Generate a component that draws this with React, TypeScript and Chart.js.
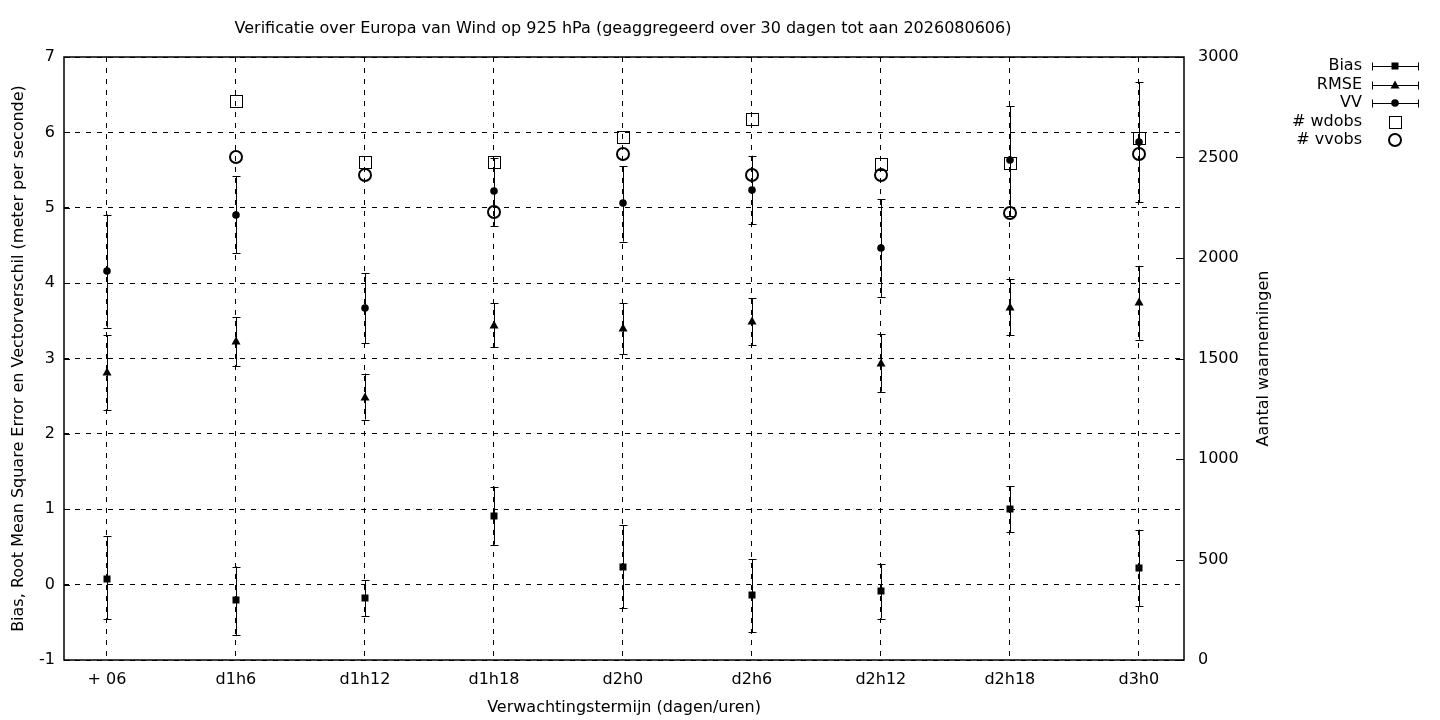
import { useEffect, useRef } from "react"
import { Chart, registerables } from "chart.js"

Chart.register(...registerables)

const FONT = "'DejaVu Sans', sans-serif"
const FS = 16

// forecast lead times
const categories = ["+ 06", "d1h6", "d1h12", "d1h18", "d2h0", "d2h6", "d2h12", "d2h18", "d3h0"]

// bias (m/s) with error bar ends
const bias = [0.08, -0.21, -0.18, 0.91, 0.24, -0.14, -0.09, 1.0, 0.22]
const biasHigh = [0.64, 0.24, 0.06, 1.3, 0.79, 0.34, 0.27, 1.31, 0.73]
const biasLow = [-0.46, -0.67, -0.42, 0.53, -0.31, -0.63, -0.45, 0.7, -0.29]

// root mean square error
const rmse = [2.82, 3.23, 2.49, 3.44, 3.4, 3.5, 2.94, 3.68, 3.75]
const rmseHigh = [3.31, 3.55, 2.8, 3.73, 3.73, 3.8, 3.32, 4.05, 4.23]
const rmseLow = [2.32, 2.9, 2.19, 3.15, 3.06, 3.18, 2.56, 3.31, 3.25]

// vector difference
const vv = [4.16, 4.91, 3.67, 5.22, 5.06, 5.23, 4.46, 5.63, 5.87]
const vvHigh = [4.91, 5.42, 4.13, 5.66, 5.55, 5.69, 5.11, 6.35, 6.67]
const vvLow = [3.41, 4.4, 3.2, 4.76, 4.55, 4.78, 3.81, 4.89, 5.07]

// number of observations (right axis)
const wdobs = [null, 2780, 2476, 2476, 2600, 2690, 2468, 2471, 2595]
const vvobs = [null, 2501, 2414, 2230, 2517, 2414, 2411, 2222, 2517]

const leftTicks = [-1, 0, 1, 2, 3, 4, 5, 6, 7]
const rightTicks = [0, 500, 1000, 1500, 2000, 2500, 3000]

const markerKinds = ["bias", "rmse", "vv", "wdobs", "vvobs"]

const toPoints = (vals: (number | null)[]) =>
  vals.map((v, i) => (v === null ? null : { x: i, y: v })).filter((p) => p !== null)

function drawMarker(ctx: CanvasRenderingContext2D, kind: string, x: number, y: number) {
  ctx.save()
  ctx.fillStyle = "#000"
  ctx.strokeStyle = "#000"
  ctx.setLineDash([])
  if (kind === "bias") {
    ctx.fillRect(x - 3.5, y - 3.5, 7, 7)
  } else if (kind === "rmse") {
    ctx.beginPath()
    ctx.moveTo(x, y - 4.5)
    ctx.lineTo(x + 4.5, y + 3.5)
    ctx.lineTo(x - 4.5, y + 3.5)
    ctx.closePath()
    ctx.fill()
  } else if (kind === "vv") {
    ctx.beginPath()
    ctx.arc(x, y, 3.8, 0, Math.PI * 2)
    ctx.fill()
  } else if (kind === "wdobs") {
    ctx.lineWidth = 1
    ctx.strokeRect(x - 5.5, y - 5.5, 12, 12)
  } else if (kind === "vvobs") {
    ctx.lineWidth = 2
    ctx.beginPath()
    ctx.arc(x, y, 6, 0, Math.PI * 2)
    ctx.stroke()
  }
  ctx.restore()
}

const errorBars = [
  { low: biasLow, high: biasHigh },
  { low: rmseLow, high: rmseHigh },
  { low: vvLow, high: vvHigh },
]

const gnuplotPlugin = {
  id: "gnuplotExtras",
  beforeDatasetsDraw(chart: any) {
    const { ctx, chartArea, scales } = chart
    const x = scales.x
    const y = scales.y
    const y2 = scales.y2
    ctx.save()
    ctx.strokeStyle = "#000"
    ctx.lineWidth = 1
    // inward ticks
    leftTicks.forEach((t) => {
      const py = Math.round(y.getPixelForValue(t)) + 0.5
      ctx.beginPath()
      ctx.moveTo(chartArea.left, py)
      ctx.lineTo(chartArea.left + 6, py)
      ctx.stroke()
    })
    rightTicks.forEach((t) => {
      const py = Math.round(y2.getPixelForValue(t)) + 0.5
      ctx.beginPath()
      ctx.moveTo(chartArea.right, py)
      ctx.lineTo(chartArea.right - 8, py)
      ctx.stroke()
    })
    // error bars
    errorBars.forEach((eb) => {
      eb.low.forEach((lo, i) => {
        const px = Math.round(x.getPixelForValue(i)) + 0.5
        const pLo = y.getPixelForValue(lo)
        const pHi = y.getPixelForValue(eb.high[i])
        ctx.beginPath()
        ctx.moveTo(px, pLo)
        ctx.lineTo(px, pHi)
        ctx.moveTo(px - 4, Math.round(pLo) + 0.5)
        ctx.lineTo(px + 4, Math.round(pLo) + 0.5)
        ctx.moveTo(px - 4, Math.round(pHi) + 0.5)
        ctx.lineTo(px + 4, Math.round(pHi) + 0.5)
        ctx.stroke()
      })
    })
    ctx.restore()
  },
  afterDatasetsDraw(chart: any) {
    const { ctx } = chart
    chart.data.datasets.forEach((_: any, di: number) => {
      const meta = chart.getDatasetMeta(di)
      meta.data.forEach((el: any) => {
        drawMarker(ctx, markerKinds[di], Math.round(el.x), Math.round(el.y))
      })
    })
  },
  afterDraw(chart: any) {
    const { ctx, chartArea } = chart
    ctx.save()
    ctx.strokeStyle = "#000"
    ctx.lineWidth = 1.5
    ctx.setLineDash([])
    ctx.strokeRect(chartArea.left, chartArea.top, chartArea.right - chartArea.left, chartArea.bottom - chartArea.top)

    ctx.fillStyle = "#000"
    ctx.font = `${FS}px ${FONT}`
    ctx.textAlign = "center"
    ctx.textBaseline = "middle"
    // title
    ctx.fillText(
      "Verificatie over Europa van Wind op 925 hPa (geaggregeerd over 30 dagen tot aan 2026080606)",
      623,
      29
    )

    // right axis title, reading upwards like gnuplot
    ctx.save()
    ctx.translate(1264, (chartArea.top + chartArea.bottom) / 2)
    ctx.rotate(-Math.PI / 2)
    ctx.fillText("Aantal waarnemingen", 0, 0)
    ctx.restore()

    // legend
    const entries = [
      { label: "Bias", bar: true },
      { label: "RMSE", bar: true },
      { label: "VV", bar: true },
      { label: "# wdobs", bar: false },
      { label: "# vvobs", bar: false },
    ]
    ctx.textAlign = "right"
    entries.forEach((e, i) => {
      const ly = Math.round(66 + i * 18.6)
      ctx.fillStyle = "#000"
      ctx.fillText(e.label, 1362, ly)
      if (e.bar) {
        const py = ly + 0.5
        ctx.lineWidth = 1
        ctx.beginPath()
        ctx.moveTo(1372, py)
        ctx.lineTo(1419, py)
        ctx.moveTo(1372.5, py - 4)
        ctx.lineTo(1372.5, py + 4)
        ctx.moveTo(1418.5, py - 4)
        ctx.lineTo(1418.5, py + 4)
        ctx.stroke()
      }
      drawMarker(ctx, markerKinds[i], 1395, ly)
    })
    ctx.restore()
  },
}

const markerDataset = (label: string, data: any[], axis: string) => ({
  type: "scatter",
  label,
  data,
  yAxisID: axis,
  showLine: false,
  pointRadius: 0,
  pointHoverRadius: 0,
})

export default function App() {
  const chartRef = useRef<HTMLCanvasElement>(null)
  const chartInstance = useRef<Chart | null>(null)

  useEffect(() => {
    document.body.style.margin = "0"
    if (!chartRef.current) return
    if (chartInstance.current) chartInstance.current.destroy()
    const ctx = chartRef.current.getContext("2d")
    if (!ctx) return

    chartInstance.current = new Chart(ctx, {
      type: "scatter",
      data: {
        datasets: [
          markerDataset("Bias", toPoints(bias), "y"),
          markerDataset("RMSE", toPoints(rmse), "y"),
          markerDataset("VV", toPoints(vv), "y"),
          markerDataset("# wdobs", toPoints(wdobs), "y2"),
          markerDataset("# vvobs", toPoints(vvobs), "y2"),
        ] as any,
      },
      options: {
        responsive: false,
        animation: false,
        events: [],
        layout: { padding: { top: 57, right: 164, left: 0, bottom: 0 } },
        plugins: {
          legend: { display: false },
          tooltip: { enabled: false },
          title: { display: false },
        },
        scales: {
          x: {
            type: "linear",
            min: -0.333,
            max: 8.35,
            afterBuildTicks: (s: any) => {
              s.ticks = categories.map((_, i) => ({ value: i }))
            },
            afterFit: (s: any) => {
              s.height = 60
            },
            ticks: {
              color: "#000",
              font: { family: FONT, size: FS },
              padding: 10,
              maxRotation: 0,
              callback: (v: any) => categories[v] ?? "",
            },
            grid: { color: "#000", lineWidth: 1, drawTicks: false },
            border: { display: false, dash: [5, 6] },
            title: {
              display: true,
              text: "Verwachtingstermijn (dagen/uren)",
              color: "#000",
              font: { family: FONT, size: FS },
              padding: { top: 0, bottom: 3 },
            },
          },
          y: {
            type: "linear",
            position: "left",
            min: -1,
            max: 7,
            afterBuildTicks: (s: any) => {
              s.ticks = leftTicks.map((v) => ({ value: v }))
            },
            afterFit: (s: any) => {
              s.width = 64
            },
            ticks: {
              color: "#000",
              font: { family: FONT, size: FS },
              padding: 9,
            },
            grid: { color: "#000", lineWidth: 1, drawTicks: false },
            border: { display: false, dash: [5, 6] },
            title: {
              display: true,
              text: "Bias, Root Mean Square Error en Vectorverschil (meter per seconde)",
              color: "#000",
              font: { family: FONT, size: FS },
              padding: { top: 9, bottom: 0 },
            },
          },
          y2: {
            type: "linear",
            position: "right",
            min: 0,
            max: 3000,
            afterBuildTicks: (s: any) => {
              s.ticks = rightTicks.map((v) => ({ value: v }))
            },
            afterFit: (s: any) => {
              s.width = 92
            },
            ticks: {
              color: "#000",
              font: { family: FONT, size: FS },
              padding: 14,
              callback: (v: any) => String(v),
            },
            grid: { display: false, drawTicks: false },
            border: { display: false },
            title: { display: false },
          },
        },
      } as any,
      plugins: [gnuplotPlugin],
    })

    return () => {
      if (chartInstance.current) {
        chartInstance.current.destroy()
        chartInstance.current = null
      }
    }
  }, [])

  return (
    <div style={{ width: 1440, height: 720 }}>
      <canvas ref={chartRef} width={1440} height={720} />
    </div>
  )
}
